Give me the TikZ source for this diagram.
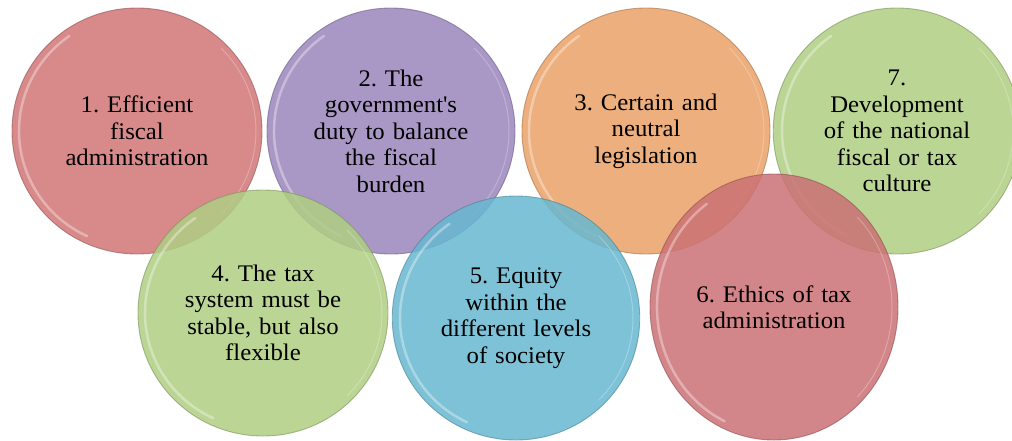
\documentclass[tikz,border=0pt]{standalone}
\usepackage{fontspec}
\setmainfont{Liberation Serif}[FakeStretch=1.04]
\usetikzlibrary{shapes.geometric}
\definecolor{cRedA}{HTML}{D27576}
\definecolor{cPurple}{HTML}{9A85BC}
\definecolor{cOrange}{HTML}{EAA267}
\definecolor{cGreen}{HTML}{B0CE83}
\definecolor{cBlue}{HTML}{68B8D1}
\definecolor{cRedB}{HTML}{CC7175}
\tikzset{
  bubble/.style={ellipse, draw=#1!70!black, line width=0.9pt, fill=#1,
    fill opacity=0.85, draw opacity=0.6, text opacity=1, inner sep=0pt,
    align=center, text=black, font=\fontsize{23.8}{26.5}\selectfont},
  gloss/.style={white, line width=2.5pt, opacity=0.35, line cap=round},
  rim/.style={white, line width=1pt, opacity=0.25, line cap=round}
}
\newcommand{\bub}[8]{%
  % #1 name, #2 x, #3 y, #4 rx, #5 ry, #6 colour, #7 text width, #8 text
  \node[bubble=#6, minimum width=2*#4 pt, minimum height=2*#5 pt, text width=#7pt] (#1) at (#2,#3) {#8};
  \draw[gloss] (#1.center) ++(115:#4-7 and #5-7) arc[start angle=115, end angle=235, x radius=#4-7, y radius=#5-7];
  \draw[rim] (#1.center) ++(-45:#4-6 and #5-6) arc[start angle=-45, end angle=45, x radius=#4-6, y radius=#5-6];
}
\begin{document}
\frenchspacing
\begin{tikzpicture}[x=1pt, y=-1pt]
\useasboundingbox (0,0) rectangle (1012,440);
\fill[white] (0,0) rectangle (1012,440);
\bub{c1}{137}{131}{125}{123}{cRedA}{175}{1. Efficient\\fiscal\\administration}
\bub{c2}{391}{131}{124}{123}{cPurple}{175}{2. The\\government\textquotesingle s\\duty to balance\\the fiscal\\burden}
\bub{c3}{646}{131}{124}{123}{cOrange}{175}{3. Certain and\\neutral\\legislation}
\bub{c7}{897}{131}{122}{123}{cGreen}{175}{7.\\Development\\of the national\\fiscal or tax\\culture}
\bub{c4}{263}{313}{125}{123}{cGreen}{175}{4. The tax\\system must be\\stable, but also\\flexible}
\bub{c5}{516}{318}{123}{122}{cBlue}{175}{5. Equity\\within the\\different levels\\of society}
\bub{c6}{774}{307}{124}{133}{cRedB}{175}{6. Ethics of tax\\administration}
\end{tikzpicture}
\end{document}
